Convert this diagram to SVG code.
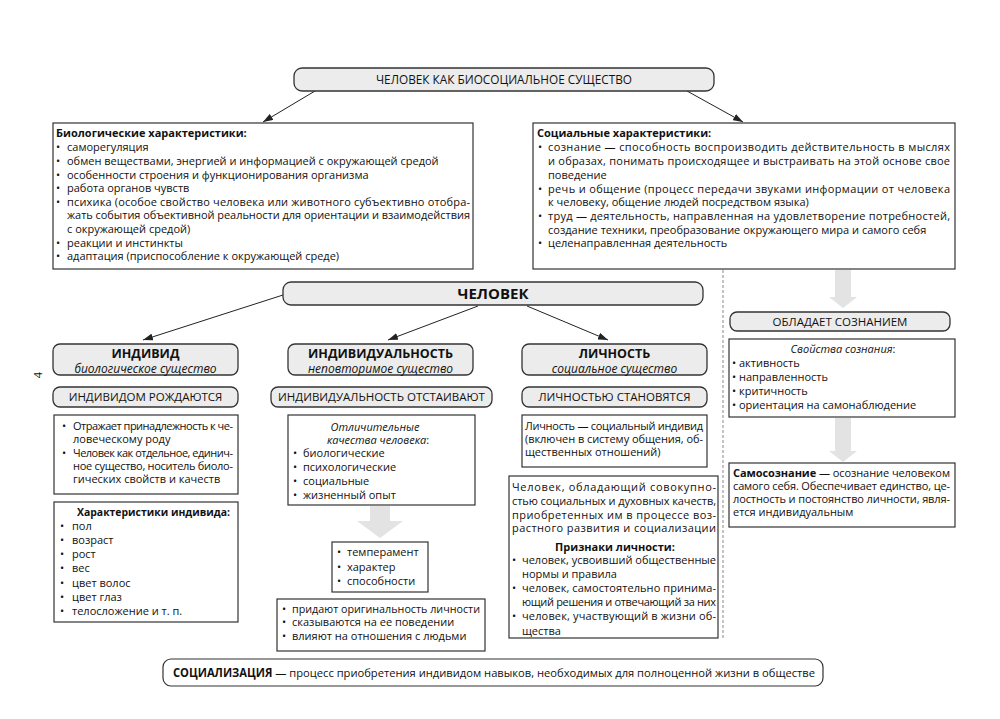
<svg xmlns="http://www.w3.org/2000/svg" width="1000" height="719" viewBox="0 0 1000 719">
<defs>
<style>
text{font-family:"Open Sans","Noto Sans","DejaVu Sans",sans-serif;font-size:11px;fill:#111}
.b{font-weight:700}
.i{font-style:italic}
.c{text-anchor:middle}
.h{font-size:11.8px}
.m{font-size:11.5px}
.it{font-size:12px}
.hb{font-size:12.5px;font-weight:700}
.rb{fill:#ececec;stroke:#333;stroke-width:1.3}
.bx{fill:#fff;stroke:#333;stroke-width:1.2}
.ar{stroke:#222;stroke-width:1;fill:none;marker-end:url(#ah)}
.ga{fill:#e3e3e3;stroke:none}
</style>
<marker id="ah" markerWidth="10" markerHeight="7" refX="10" refY="3.5" orient="auto" markerUnits="userSpaceOnUse">
<path d="M0,0 L10,3.5 L0,7 z" fill="#222"/>
</marker>
</defs>
<rect width="1000" height="719" fill="#fff"/>

<g id="connectors">
<line class="ar" x1="315" y1="91" x2="263" y2="122"/>
<line class="ar" x1="687" y1="91" x2="743" y2="122"/>
<line class="ar" x1="283" y1="295" x2="143" y2="340"/>
<line class="ar" x1="478" y1="306" x2="388" y2="340"/>
<line class="ar" x1="527" y1="306" x2="608" y2="340"/>
<line x1="723" y1="270" x2="723" y2="640" stroke="#888" stroke-width="1" stroke-dasharray="3 2"/>
<polygon class="ga" points="835,270 851,270 851,297 857,297 843,308 829,297 835,297"/>
<polygon class="ga" points="835,418 851,418 851,451 857,451 843,462 829,451 835,451"/>
<polygon class="ga" points="370,506 390,506 390,521 403,521 380,538 357,521 370,521"/>
</g>

<g id="page-number">
<text x="42" y="375" transform="rotate(-90 42 375)" class="c">4</text>
</g>

<g id="title">
<rect class="rb" x="294" y="68" width="420" height="23" rx="8"/>
<text class="c h" x="504" y="84">ЧЕЛОВЕК КАК БИОСОЦИАЛЬНОЕ СУЩЕСТВО</text>
</g>

<g id="bio">
<rect class="bx" x="53" y="123" width="420" height="146"/>
<text class="b" x="56" y="137">Биологические характеристики:</text>
<text x="56" y="151">•</text><text x="67" y="151">саморегуляция</text>
<text x="56" y="165">•</text><text x="67" y="165">обмен веществами, энергией и информацией с окружающей средой</text>
<text x="56" y="179">•</text><text x="67" y="179">особенности строения и функционирования организма</text>
<text x="56" y="192">•</text><text x="67" y="192">работа органов чувств</text>
<text x="56" y="206">•</text><text x="67" y="206" textLength="403" lengthAdjust="spacing">психика (особое свойство человека или животного субъективно отобра-</text>
<text x="67" y="219" textLength="403" lengthAdjust="spacing">жать события объективной реальности для ориентации и взаимодействия</text>
<text x="67" y="233">с окружающей средой)</text>
<text x="56" y="247">•</text><text x="67" y="247">реакции и инстинкты</text>
<text x="56" y="260">•</text><text x="67" y="260">адаптация (приспособление к окружающей среде)</text>
</g>

<g id="social">
<rect class="bx" x="533" y="123" width="422" height="146"/>
<text class="b" x="537" y="137">Социальные характеристики:</text>
<text x="538" y="151">•</text><text x="548" y="151" textLength="402" lengthAdjust="spacing">сознание — способность воспроизводить действительность в мыслях</text>
<text x="548" y="165" textLength="402" lengthAdjust="spacing">и образах, понимать происходящее и выстраивать на этой основе свое</text>
<text x="548" y="179">поведение</text>
<text x="538" y="193">•</text><text x="548" y="193" textLength="402" lengthAdjust="spacing">речь и общение (процесс передачи звуками информации от человека</text>
<text x="548" y="206">к человеку, общение людей посредством языка)</text>
<text x="538" y="220">•</text><text x="548" y="220" textLength="402" lengthAdjust="spacing">труд — деятельность, направленная на удовлетворение потребностей,</text>
<text x="548" y="234">создание техники, преобразование окружающего мира и самого себя</text>
<text x="538" y="247">•</text><text x="548" y="247">целенаправленная деятельность</text>
</g>

<g id="chelovek">
<rect class="rb" x="283" y="282" width="420" height="23" rx="8"/>
<text class="c b" x="493" y="299" style="font-size:15px">ЧЕЛОВЕК</text>
</g>

<g id="individ">
<rect class="rb" x="53" y="344" width="185" height="31" rx="7"/>
<text class="c hb" x="145.5" y="357.5">ИНДИВИД</text>
<text class="c i it" x="145.5" y="372.5">биологическое существо</text>
</g>
<g id="individ-born">
<rect class="rb" x="53" y="387" width="185" height="20" rx="7"/>
<text class="c m" x="145.5" y="401">ИНДИВИДОМ РОЖДАЮТСЯ</text>
</g>
<g id="individualnost">
<rect class="rb" x="288" y="344" width="185" height="31" rx="7"/>
<text class="c hb" x="380.5" y="357.5">ИНДИВИДУАЛЬНОСТЬ</text>
<text class="c i it" x="380.5" y="372.5">неповторимое существо</text>
</g>
<g id="individualnost-defend">
<rect class="rb" x="271" y="387" width="221" height="20" rx="7"/>
<text class="c m" x="381.5" y="401">ИНДИВИДУАЛЬНОСТЬ ОТСТАИВАЮТ</text>
</g>
<g id="lichnost">
<rect class="rb" x="522" y="344" width="185" height="31" rx="7"/>
<text class="c hb" x="614.5" y="357.5">ЛИЧНОСТЬ</text>
<text class="c i it" x="614.5" y="372.5">социальное существо</text>
</g>
<g id="lichnost-become">
<rect class="rb" x="522" y="387" width="185" height="20" rx="7"/>
<text class="c m" x="614.5" y="401">ЛИЧНОСТЬЮ СТАНОВЯТСЯ</text>
</g>

<g id="obladaet">
<rect class="rb" x="730" y="312" width="220" height="19" rx="7"/>
<text class="c m" x="840" y="325.5">ОБЛАДАЕТ СОЗНАНИЕМ</text>
</g>
<g id="svoistva">
<rect class="bx" x="729" y="339" width="226" height="78"/>
<text class="c" x="843" y="353"><tspan class="i">Свойства сознания</tspan>:</text>
<text x="732" y="367">• активность</text>
<text x="732" y="381">• направленность</text>
<text x="732" y="395">• критичность</text>
<text x="732" y="409">• ориентация на самонаблюдение</text>
</g>
<g id="samosoznanie">
<rect class="bx" x="729" y="463" width="226" height="64"/>
<text x="733" y="477" textLength="217" lengthAdjust="spacing"><tspan class="b">Самосознание</tspan> — осознание человеком</text>
<text x="733" y="490" textLength="217" lengthAdjust="spacing">самого себя. Обеспечивает единство, це-</text>
<text x="733" y="503" textLength="217" lengthAdjust="spacing">лостность и постоянство личности, явля-</text>
<text x="733" y="516">ется индивидуальным</text>
</g>

<g id="individ-desc">
<rect class="bx" x="54" y="415" width="184" height="79"/>
<text x="62" y="430">•</text><text x="73" y="430" textLength="160" lengthAdjust="spacing">Отражает принадлежность к че-</text>
<text x="73" y="443">ловеческому роду</text>
<text x="62" y="457">•</text><text x="73" y="457" textLength="160" lengthAdjust="spacing">Человек как отдельное, единич-</text>
<text x="73" y="470" textLength="160" lengthAdjust="spacing">ное существо, носитель биоло-</text>
<text x="73" y="483">гических свойств и качеств</text>
</g>
<g id="individ-chars">
<rect class="bx" x="54" y="502" width="184" height="120"/>
<text class="b" x="77" y="516" textLength="153" lengthAdjust="spacingAndGlyphs">Характеристики индивида:</text>
<text x="60" y="530">•</text><text x="72" y="530">пол</text>
<text x="60" y="544">•</text><text x="72" y="544">возраст</text>
<text x="60" y="558">•</text><text x="72" y="558">рост</text>
<text x="60" y="572">•</text><text x="72" y="572">вес</text>
<text x="60" y="587">•</text><text x="72" y="587">цвет волос</text>
<text x="60" y="601">•</text><text x="72" y="601">цвет глаз</text>
<text x="60" y="615">•</text><text x="72" y="615">телосложение и т. п.</text>
</g>

<g id="otlichitelnye">
<rect class="bx" x="288" y="415" width="187" height="90"/>
<text class="c i" x="375" y="431">Отличительные</text>
<text class="c" x="378" y="444"><tspan class="i">качества человека</tspan>:</text>
<text x="293" y="457">•</text><text x="303" y="457">биологические</text>
<text x="293" y="471">•</text><text x="303" y="471">психологические</text>
<text x="293" y="485">•</text><text x="303" y="485">социальные</text>
<text x="293" y="499">•</text><text x="303" y="499">жизненный опыт</text>
</g>
<g id="temperament">
<rect class="bx" x="332" y="542" width="96" height="50"/>
<text x="337" y="556">•</text><text x="347" y="556">темперамент</text>
<text x="337" y="571">•</text><text x="347" y="571">характер</text>
<text x="337" y="585">•</text><text x="347" y="585">способности</text>
</g>
<g id="pridayut">
<rect class="bx" x="277" y="599" width="208" height="52"/>
<text x="282" y="613">•</text><text x="292" y="613" textLength="188" lengthAdjust="spacingAndGlyphs">придают оригинальность личности</text>
<text x="282" y="626">•</text><text x="292" y="626">сказываются на ее поведении</text>
<text x="282" y="640">•</text><text x="292" y="640">влияют на отношения с людьми</text>
</g>

<g id="lichnost-desc">
<rect class="bx" x="522" y="415" width="185" height="52"/>
<text x="525" y="430" textLength="178" lengthAdjust="spacing">Личность — социальный индивид</text>
<text x="525" y="443" textLength="178" lengthAdjust="spacing">(включен в систему общения, об-</text>
<text x="525" y="456">щественных отношений)</text>
</g>
<g id="lichnost-priznaki">
<rect class="bx" x="509" y="476" width="209" height="162"/>
<text x="512" y="491" textLength="204" lengthAdjust="spacing">Человек, обладающий совокупно-</text>
<text x="512" y="505" textLength="204" lengthAdjust="spacing">стью социальных и духовных качеств,</text>
<text x="512" y="519" textLength="204" lengthAdjust="spacing">приобретенных им в процессе воз-</text>
<text x="512" y="532" textLength="204" lengthAdjust="spacing">растного развития и социализации</text>
<text class="c b" x="615" y="551">Признаки личности:</text>
<text x="512" y="564">•</text><text x="522" y="564" textLength="194" lengthAdjust="spacing">человек, усвоивший общественные</text>
<text x="522" y="578">нормы и правила</text>
<text x="512" y="592">•</text><text x="522" y="592" textLength="194" lengthAdjust="spacing">человек, самостоятельно принима-</text>
<text x="522" y="606" textLength="194" lengthAdjust="spacing">ющий решения и отвечающий за них</text>
<text x="512" y="620">•</text><text x="522" y="620" textLength="194" lengthAdjust="spacing">человек, участвующий в жизни об-</text>
<text x="522" y="635">щества</text>
</g>

<g id="socializaciya">
<rect class="bx" x="163" y="659" width="660" height="27" rx="8"/>
<text x="173" y="677" class="m" textLength="642" lengthAdjust="spacingAndGlyphs"><tspan class="b">СОЦИАЛИЗАЦИЯ</tspan> — процесс приобретения индивидом навыков, необходимых для полноценной жизни в обществе</text>
</g>
</svg>
